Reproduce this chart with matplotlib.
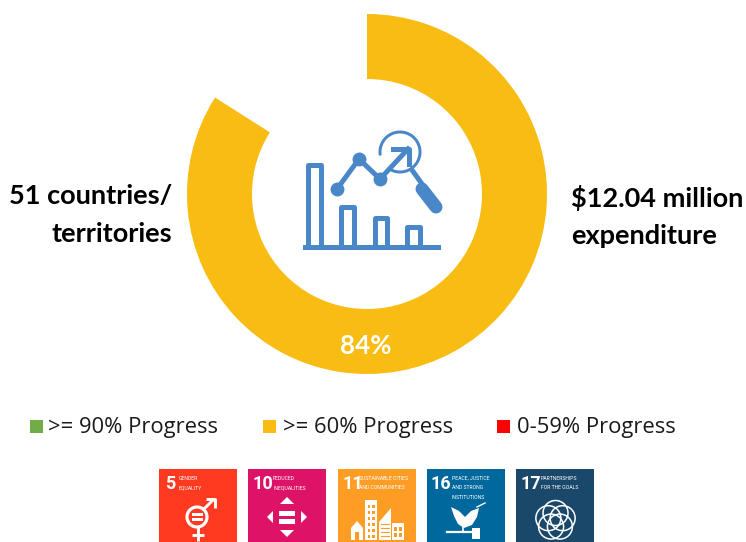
import matplotlib
matplotlib.use('Agg')
import matplotlib.pyplot as plt
import numpy as np
from matplotlib.patches import Circle, Polygon, Rectangle, Arc

# data
share = [84, 16]
share_label = '84%'
left_label = ['51 countries/', 'territories']
right_label = ['$12.04 million', 'expenditure']
legend_labels = ['>= 90% Progress', '>= 60% Progress', '0-59% Progress']
legend_colors = ['#70AD47', '#F9BC12', '#FF0000']
tile_numbers = ['5', '10', '11', '16', '17']
tile_titles = [['GENDER', 'EQUALITY'],
               ['REDUCED', 'INEQUALITIES'],
               ['SUSTAINABLE CITIES', 'AND COMMUNITIES'],
               ['PEACE, JUSTICE', 'AND STRONG', 'INSTITUTIONS'],
               ['PARTNERSHIPS', 'FOR THE GOALS']]
tile_colors = ['#FF3A21', '#DD1367', '#FD9D24', '#00689D', '#19486A']

BLUE = '#4A87C9'
W, H = 746, 542

plt.rcParams['font.family'] = ['Open Sans', 'DejaVu Sans']
fig = plt.figure(figsize=(W / 100, H / 100), dpi=100)

# donut axes, y goes up
ax_d = fig.add_axes([0, 0, 1, 1])
ax_d.pie(share, colors=[legend_colors[1], 'none'], startangle=90, counterclock=False,
         center=(367, H - 194), radius=180, frame=True,
         wedgeprops=dict(width=65, linewidth=0))
ax_d.set_xlim(0, W)
ax_d.set_ylim(0, H)
ax_d.axis('off')

# everything else in pixel coords, y goes down
ax = fig.add_axes([0, 0, 1, 1])
ax.set_xlim(0, W)
ax.set_ylim(H, 0)
ax.axis('off')
ax.patch.set_alpha(0)

bold = dict(fontweight='bold', family=['Lato', 'DejaVu Sans'], va='center')
ax.text(366, 346, share_label, color='white', fontsize=18.7, ha='center', **bold)
ax.text(172, 196, left_label[0], fontsize=19.5, ha='right', **bold)
ax.text(172, 234, left_label[1], fontsize=19.5, ha='right', **bold)
ax.text(571, 198, right_label[0].replace('$', r'\$'), fontsize=19.5, ha='left', **bold)
ax.text(571, 236, right_label[1], fontsize=19.5, ha='left', **bold)

# legend
for x, tx, lab, c in zip([30, 263, 497], [48, 283, 517], legend_labels, legend_colors):
    ax.add_patch(Rectangle((x, 420), 13, 13, color=c, lw=0))
    ax.text(tx, 428, lab, fontsize=15.8, ha='left', va='center', color='#1a1a1a')

# centre icon
lw = 5 * 0.72
for x0, x1, top in [(307.5, 320.5, 164.5), (340.5, 353.5, 206.5), (374.5, 386.5, 217.5), (406.5, 419.5, 226.5)]:
    ax.plot([x0, x0, x1, x1], [247, top, top, 247], color=BLUE, lw=lw, solid_joinstyle='round')
ax.plot([305, 438], [246.5, 246.5], color=BLUE, lw=lw)
line_x = [337, 359, 380, 408]
line_y = [189, 159, 179, 149]
ax.plot(line_x, line_y, color=BLUE, lw=lw)
ax.scatter(line_x[:3], line_y[:3], s=100, color=BLUE, lw=0, zorder=3)
ax.plot([393, 408.5, 408.5], [149, 149, 164], color=BLUE, lw=lw)
ax.add_patch(Arc((400, 152), 40, 40, theta1=170, theta2=125, color=BLUE, lw=3 * 0.72))
ax.plot([412, 422], [170, 184], color=BLUE, lw=lw)
ax.plot([422, 436], [189, 207], color=BLUE, lw=13 * 0.72, solid_capstyle='round')

# SDG tiles
tile_x = [159, 248, 338, 427, 516]
num_x = [165, 252, 342, 431, 520]
title_x = [179, 273, 359, 452, 541]
for x, nx, tx, num, title, c in zip(tile_x, num_x, title_x, tile_numbers, tile_titles, tile_colors):
    ax.add_patch(Rectangle((x, 469), 78, 73, color=c, lw=0))
    ax.text(nx, 484, num, color='white', fontsize=13, fontweight='bold', ha='left', va='center',
            family=['Roboto', 'DejaVu Sans'])
    for i, line in enumerate(title):
        ax.text(tx, 478 + i * 9.6, line, color='white', fontsize=3.7, ha='left', va='center',
                family=['Roboto', 'DejaVu Sans'])

# 5: gender symbol
g = dict(color='white', lw=2.1, solid_capstyle='butt')
ax.add_patch(Circle((197, 517), 10, fill=False, ec='white', lw=2.3))
ax.plot([198, 198], [527, 541], **g)
ax.plot([192, 204], [535, 535], **g)
ax.plot([204, 214], [509, 499], **g)
ax.plot([206, 215, 215], [499, 499, 508], **g)
ax.add_patch(Rectangle((192, 513), 11, 2.5, color='white', lw=0))
ax.add_patch(Rectangle((192, 518), 11, 2.5, color='white', lw=0))

# 10: arrows
for pts in [[(280, 504), (294, 504), (287, 497)], [(280, 530), (294, 530), (287, 537)],
            [(273, 511), (273, 523), (267, 517)], [(301, 511), (301, 523), (307, 517)]]:
    ax.add_patch(Polygon(pts, color='white', lw=0))
ax.add_patch(Rectangle((279, 511), 16, 4.5, color='white', lw=0))
ax.add_patch(Rectangle((279, 519), 16, 4.5, color='white', lw=0))

# 11: buildings
orange = tile_colors[2]
ax.add_patch(Polygon([(351, 528), (357, 521), (363, 528), (363, 540), (351, 540)], color='white', lw=0))
ax.add_patch(Rectangle((355, 532), 4, 8, color=orange, lw=0))
ax.add_patch(Rectangle((365, 500), 12, 40, color='white', lw=0))
for wx in [367.5, 372]:
    for wy in np.arange(505, 537, 6):
        ax.add_patch(Rectangle((wx, wy), 2.6, 3, color=orange, lw=0))
ax.add_patch(Polygon([(379, 540), (379, 522), (391, 508), (391, 540)], color='white', lw=0))
for wy in np.arange(524, 538, 4):
    ax.plot([381, 389], [wy, wy], color=orange, lw=0.8)
ax.add_patch(Rectangle((392, 523), 12, 17, color='white', lw=0))
for wx in [394, 399]:
    for wy in [527, 533]:
        ax.add_patch(Rectangle((wx, wy), 3.2, 3.5, color=orange, lw=0))

# 16: dove and gavel
ax.add_patch(Polygon([(451, 507), (459, 511), (465, 517), (471, 511), (479, 508), (477, 517),
                      (472, 525), (464, 528), (458, 524), (454, 516)], color='white', lw=0))
ax.plot([477, 485], [507, 503], color='white', lw=1)
ax.plot([447, 474], [532, 532], color='white', lw=1.6)
ax.add_patch(Rectangle((472, 528), 8, 11, color='white', lw=0))
ax.plot([463, 463], [527, 532], color='white', lw=1.2)

# 17: rings
for a in np.deg2rad(90 + 72 * np.arange(5)):
    ax.add_patch(Circle((555.5 + 7.5 * np.cos(a), 520.5 - 7.5 * np.sin(a)), 12.5, fill=False, ec='white', lw=1.1))

fig.savefig('out.png', dpi=100)
